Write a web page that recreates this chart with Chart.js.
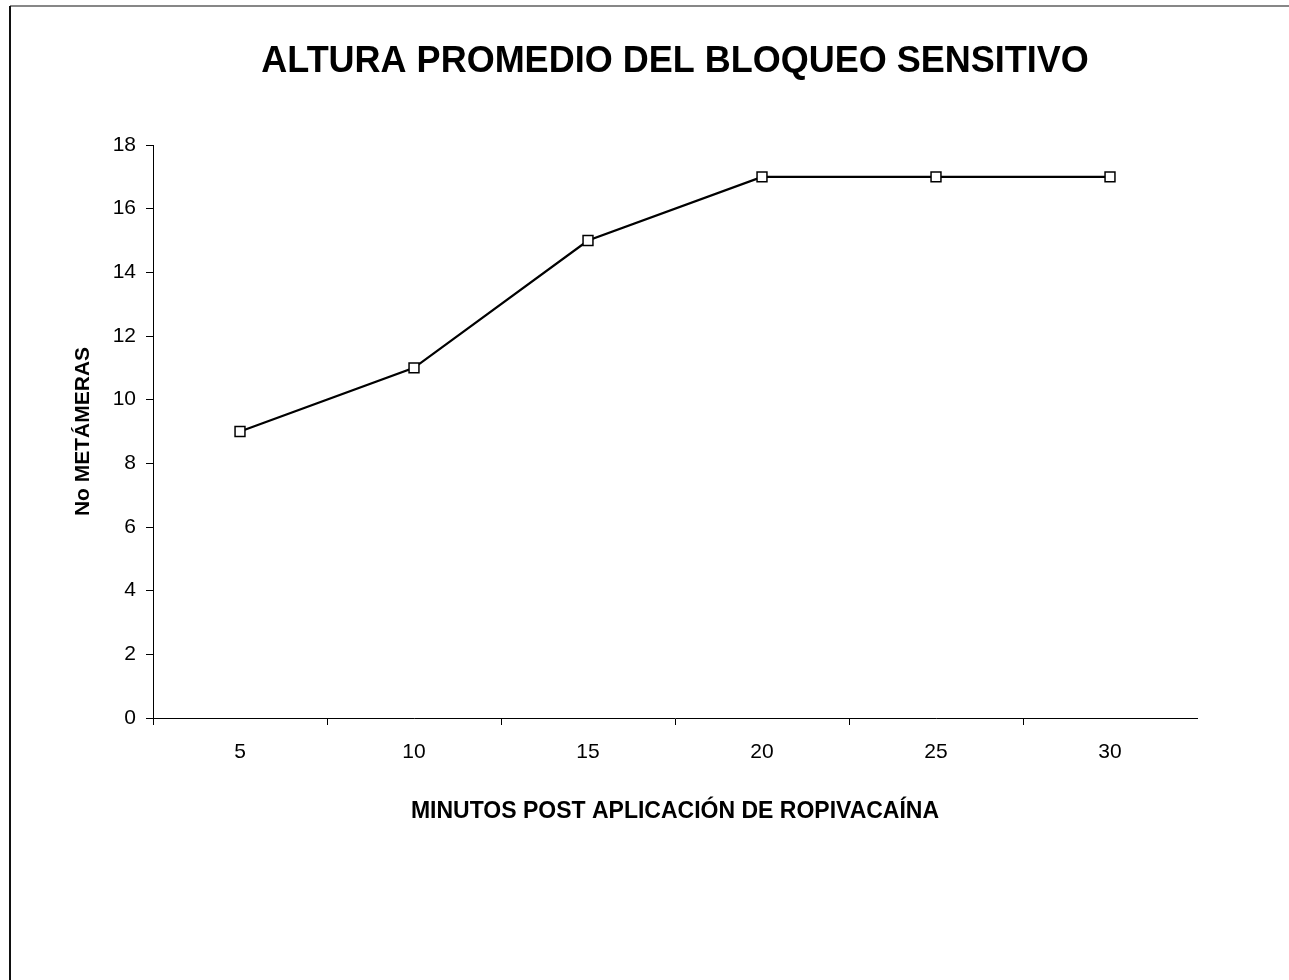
<!DOCTYPE html>
<html>
<head>
<meta charset="utf-8">
<script src="https://cdn.jsdelivr.net/npm/chart.js@4/dist/chart.umd.min.js"></script>
<style>
  html, body { margin: 0; padding: 0; background: #fff; }
  #wrap { width: 1289px; height: 980px; position: relative; }
</style>
</head>
<body>
<div id="wrap"><canvas id="c" width="1289" height="980"></canvas></div>
<script>
// Minutes after ropivacaine was applied
const minutes = ['5', '10', '15', '20', '25', '30'];
// Mean number of blocked dermatomes at each time
const metameras = [9, 11, 15, 17, 17, 17];
// Vertical axis range and step
const yMin = 0;
const yMax = 18;
const yStep = 2;

const chartTitle = 'ALTURA PROMEDIO DEL BLOQUEO SENSITIVO';
const xTitle = 'MINUTOS POST APLICACIÓN DE ROPIVACAÍNA';
const yTitle = 'No METÁMERAS';

const FONT = '"Liberation Sans", Arial, Helvetica, sans-serif';

// White page with the left edge and top rule of the frame
const framePlugin = {
  id: 'frame',
  beforeDraw(chart) {
    const ctx = chart.ctx;
    ctx.save();
    ctx.fillStyle = '#ffffff';
    ctx.fillRect(0, 0, chart.width, chart.height);
    ctx.strokeStyle = '#111';
    ctx.lineWidth = 2;
    ctx.beginPath();
    ctx.moveTo(10, 6);
    ctx.lineTo(10, chart.height);
    ctx.stroke();
    ctx.lineWidth = 1.2;
    ctx.beginPath();
    ctx.moveTo(10, 6);
    ctx.lineTo(chart.width, 6);
    ctx.stroke();
    ctx.restore();
  }
};

new Chart(document.getElementById('c'), {
  type: 'line',
  data: {
    labels: minutes,
    datasets: [{
      data: metameras,
      borderColor: '#000',
      borderWidth: 2.3,
      tension: 0,
      pointStyle: 'rect',
      pointRadius: 7,
      pointHoverRadius: 7,
      pointBorderWidth: 1.5,
      pointBorderColor: '#000',
      pointBackgroundColor: '#fff'
    }]
  },
  options: {
    responsive: false,
    animation: false,
    events: [],
    layout: { padding: { left: 0, right: 92, top: 0, bottom: 155 } },
    plugins: {
      legend: { display: false },
      tooltip: { enabled: false },
      title: {
        display: true,
        text: chartTitle,
        fullSize: false,
        color: '#000',
        font: { family: FONT, size: 36, weight: 'bold', lineHeight: 1.2 },
        padding: { top: 40, bottom: 61.8 }
      }
    },
    scales: {
      x: {
        offset: true,
        grid: {
          offset: true,
          drawOnChartArea: false,
          drawTicks: true,
          tickLength: 7,
          // no tick mark at the far right end of the axis
          color: (c) => c.tick ? '#000' : 'rgba(0,0,0,0)',
          lineWidth: 1
        },
        border: { display: true, color: '#000', width: 1 },
        ticks: {
          color: '#000',
          padding: 15,
          maxRotation: 0,
          font: { family: FONT, size: 21 }
        },
        title: {
          display: true,
          text: xTitle,
          color: '#000',
          font: { family: FONT, size: 23, weight: 'bold', lineHeight: 1.2 },
          padding: { top: 0, bottom: 0 }
        },
        afterFit(scale) { scale.height = 107; }
      },
      y: {
        min: yMin,
        max: yMax,
        grid: {
          drawOnChartArea: false,
          drawTicks: true,
          tickLength: 7,
          color: '#000',
          lineWidth: 1
        },
        border: { display: true, color: '#000', width: 1 },
        ticks: {
          stepSize: yStep,
          color: '#000',
          padding: 10,
          font: { family: FONT, size: 21 }
        },
        title: {
          display: true,
          text: yTitle,
          color: '#000',
          font: { family: FONT, size: 21, weight: 'bold', lineHeight: 1.2 },
          padding: { top: 71, bottom: 0 }
        },
        afterFit(scale) { scale.width = 153; }
      }
    }
  },
  plugins: [framePlugin]
});
</script>
</body>
</html>
